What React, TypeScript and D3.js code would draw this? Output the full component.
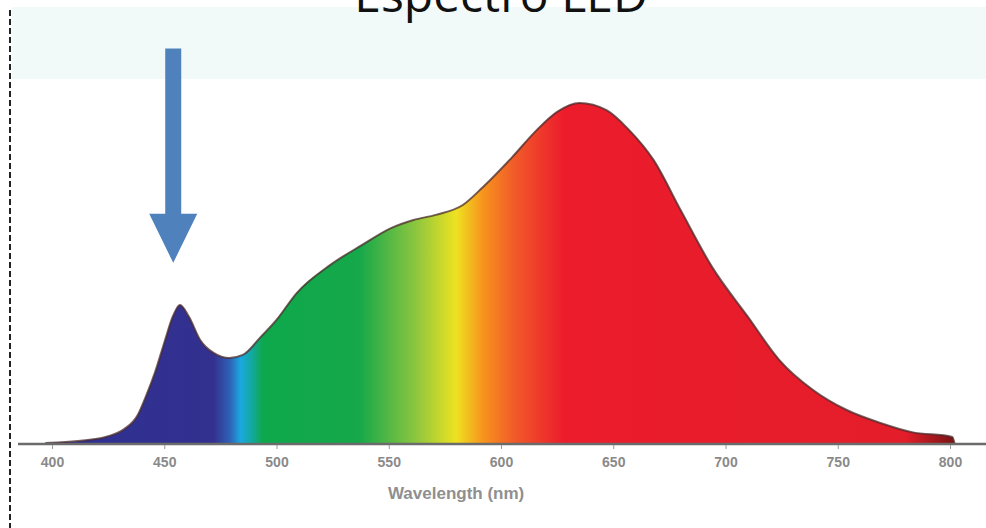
import React, { useRef, useEffect } from "react";
import * as d3 from "d3";

// spectrum: wavelength (nm) and relative intensity (peak = 100)
const wavelengths = [
  397, 415, 425, 432, 438, 442, 446, 450, 454, 457, 461, 466, 472, 479, 485,
  493, 500, 509, 524, 538, 551, 561, 571, 583, 592, 605, 616, 625, 635, 647,
  657, 668, 680, 694, 710, 724, 739, 754, 769, 783, 801, 802,
];
const intensities = [
  0, 0.8, 2, 4, 8, 14, 21, 29.5, 37.5, 40.6, 37.1, 30.3, 26.5, 25.0, 25.9,
  31.2, 36.2, 44.1, 52.4, 58.2, 63.2, 65.6, 67.1, 70.0, 75.3, 84.1, 92.1,
  97.4, 100, 97.9, 92.1, 83.2, 68.5, 51.8, 37.1, 24.4, 15.6, 9.7, 5.9, 3.2,
  1.8, 0,
];

const tickValues = [400, 450, 500, 550, 600, 650, 700, 750, 800];

// colour of the fill along the spectrum
const spectrumStops = [400, 472, 479, 484, 489, 494, 537, 562, 580, 592, 606, 628, 780, 801];
const spectrumColors = [
  "#2e3192", "#33308f", "#2f5fb5", "#1ba8e0", "#13a89e", "#0ea84c", "#16a84a",
  "#8cc63f", "#eee221", "#f7941d", "#f15a29", "#ec1c2c", "#e41d2a", "#7d1414",
];

// arrow annotation (wavelength, from / to intensity)
const arrowWl = 454;
const arrowFrom = 116;
const arrowTo = 53;

const W = 986;
const H = 528;

export default function App() {
  const ref = useRef<SVGSVGElement | null>(null);

  useEffect(() => {
    if (!ref.current) return;
    const svg = d3.select(ref.current);
    svg.selectAll("*").remove();

    const x = d3.scaleLinear().domain([400, 800]).range([52, 950]);
    const y = d3.scaleLinear().domain([0, 100]).range([443, 103]);
    const color = d3
      .scaleLinear<string>()
      .domain(spectrumStops)
      .range(spectrumColors);

    const points = wavelengths.map((w, i) => ({ w, v: intensities[i] }));

    // background
    svg.append("rect").attr("width", W).attr("height", H).attr("fill", "#fff");
    svg
      .append("rect")
      .attr("x", 12)
      .attr("y", 7)
      .attr("width", W - 12)
      .attr("height", 72)
      .attr("fill", "#f2f9f9");

    // title (cut off at the top, as in the source image)
    svg
      .append("text")
      .attr("x", 501)
      .attr("y", 12)
      .attr("text-anchor", "middle")
      .attr("font-family", "'Open Sans', sans-serif")
      .attr("font-size", 48)
      .attr("fill", "#111")
      .text("Espectro LED");

    // left dashed border
    svg
      .append("line")
      .attr("x1", 10)
      .attr("x2", 10)
      .attr("y1", 10)
      .attr("y2", H)
      .attr("stroke", "#222")
      .attr("stroke-width", 2)
      .attr("stroke-dasharray", "6,3");

    // gradient
    const defs = svg.append("defs");
    const grad = defs
      .append("linearGradient")
      .attr("id", "spec")
      .attr("gradientUnits", "userSpaceOnUse")
      .attr("x1", x(spectrumStops[0]))
      .attr("x2", x(spectrumStops[spectrumStops.length - 1]))
      .attr("y1", 0)
      .attr("y2", 0);
    const x0 = x(spectrumStops[0]);
    const span = x(spectrumStops[spectrumStops.length - 1]) - x0;
    spectrumStops.forEach((s) => {
      grad
        .append("stop")
        .attr("offset", (x(s) - x0) / span)
        .attr("stop-color", color(s));
    });

    const area = d3
      .area<{ w: number; v: number }>()
      .x((d) => x(d.w))
      .y0(y(0))
      .y1((d) => y(d.v))
      .curve(d3.curveMonotoneX);
    const line = d3
      .line<{ w: number; v: number }>()
      .x((d) => x(d.w))
      .y((d) => y(d.v))
      .curve(d3.curveMonotoneX);

    svg.append("path").attr("d", area(points)).attr("fill", "url(#spec)");
    svg
      .append("path")
      .attr("d", line(points))
      .attr("fill", "none")
      .attr("stroke", "#4a2a2a")
      .attr("stroke-opacity", 0.75)
      .attr("stroke-width", 2);

    // axis
    svg
      .append("line")
      .attr("x1", 18)
      .attr("x2", W)
      .attr("y1", y(0) + 1)
      .attr("y2", y(0) + 1)
      .attr("stroke", "#6b6b6b")
      .attr("stroke-width", 2.5);

    const axis = svg
      .append("g")
      .attr("transform", `translate(0,${y(0) + 2})`)
      .call(d3.axisBottom(x).tickValues(tickValues).tickSize(4).tickPadding(8));
    axis.select(".domain").remove();
    axis.selectAll("line").attr("stroke", "#999");
    axis
      .selectAll("text")
      .attr("fill", "#8a8a8a")
      .attr("font-size", 14)
      .attr("font-weight", "bold")
      .attr("font-family", "'Liberation Sans', Arial, sans-serif");

    svg
      .append("text")
      .attr("x", x(580))
      .attr("y", 499)
      .attr("text-anchor", "middle")
      .attr("font-family", "'Liberation Sans', Arial, sans-serif")
      .attr("font-size", 17)
      .attr("font-weight", "bold")
      .attr("fill", "#8f8f8f")
      .text("Wavelength (nm)");

    // arrow
    const ax = x(arrowWl);
    const yTop = y(arrowFrom);
    const yTip = y(arrowTo);
    const headLen = 49;
    const shaftHalf = 8;
    const headHalf = 24;
    svg
      .append("path")
      .attr(
        "d",
        `M${ax - shaftHalf},${yTop} L${ax + shaftHalf},${yTop} L${ax + shaftHalf},${
          yTip - headLen
        } L${ax + headHalf},${yTip - headLen} L${ax},${yTip} L${ax - headHalf},${
          yTip - headLen
        } L${ax - shaftHalf},${yTip - headLen} Z`
      )
      .attr("fill", "#4f81bd");
  }, []);

  return (
    <svg
      ref={ref}
      width={W}
      height={H}
      style={{ position: "absolute", left: 0, top: 0 }}
    />
  );
}
